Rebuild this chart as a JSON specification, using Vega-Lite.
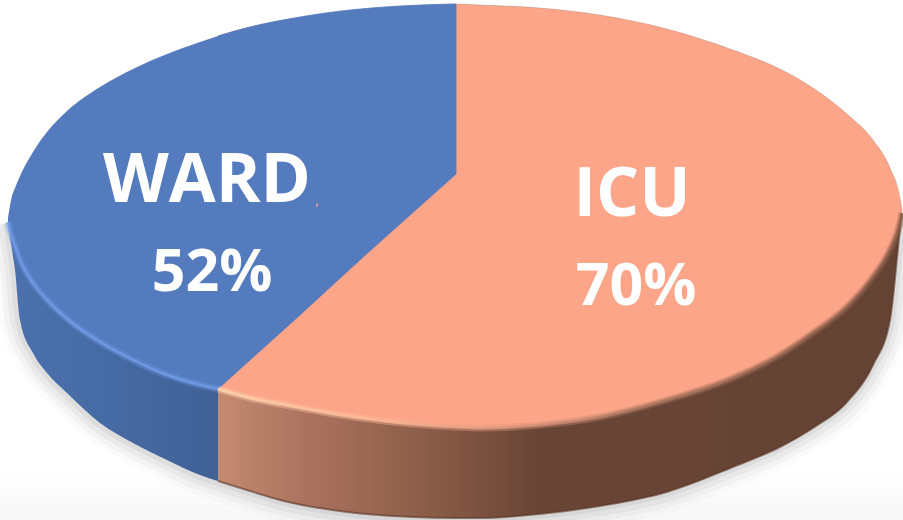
{
"$schema":"https://vega.github.io/schema/vega-lite/v6.json",
"autosize":{"type":"none"},"width":903,"height":520,"padding":0,"background":"#ffffff",
"view":{"stroke":null},
"datasets":{
"rim":[
{"slice":"WARD","x":8,"back":218,"front":222,"bottom":223},
{"slice":"WARD","x":12,"back":196,"front":238,"bottom":250},
{"slice":"WARD","x":15,"back":188,"front":246,"bottom":270},
{"slice":"WARD","x":20,"back":176,"front":260,"bottom":320},
{"slice":"WARD","x":33,"back":152,"front":283,"bottom":353},
{"slice":"WARD","x":47,"back":132,"front":300,"bottom":373},
{"slice":"WARD","x":67,"back":111,"front":319,"bottom":393},
{"slice":"WARD","x":100,"back":87,"front":342,"bottom":423},
{"slice":"WARD","x":133,"back":69,"front":360,"bottom":443},
{"slice":"WARD","x":167,"back":54,"front":375,"bottom":460},
{"slice":"WARD","x":200,"back":42,"front":385,"bottom":475},
{"slice":"WARD","x":218,"back":36,"front":389,"bottom":481},
{"slice":"ICU","x":218,"back":36,"front":389,"bottom":481},
{"slice":"ICU","x":250,"back":27,"front":398,"bottom":491},
{"slice":"ICU","x":280,"back":21,"front":404,"bottom":500},
{"slice":"ICU","x":347,"back":11,"front":416,"bottom":512},
{"slice":"ICU","x":413,"back":6,"front":424,"bottom":517},
{"slice":"ICU","x":456,"back":4,"front":427,"bottom":518},
{"slice":"ICU","x":480,"back":5,"front":428,"bottom":518},
{"slice":"ICU","x":540,"back":8,"front":425,"bottom":514},
{"slice":"ICU","x":600,"back":15,"front":417,"bottom":506},
{"slice":"ICU","x":667,"back":29,"front":400,"bottom":492},
{"slice":"ICU","x":733,"back":50,"front":378,"bottom":467},
{"slice":"ICU","x":780,"back":69,"front":355,"bottom":447},
{"slice":"ICU","x":813,"back":88,"front":333,"bottom":428},
{"slice":"ICU","x":847,"back":114,"front":307,"bottom":402},
{"slice":"ICU","x":873,"back":140,"front":277,"bottom":365},
{"slice":"ICU","x":890,"back":168,"front":250,"bottom":320},
{"slice":"ICU","x":900,"back":198,"front":223,"bottom":230},
{"slice":"ICU","x":902,"back":210,"front":213,"bottom":214}
],
"wedge":[
{"x":218,"back":36,"front":389},
{"x":250,"back":27,"front":360},
{"x":300,"back":17,"front":315},
{"x":350,"back":10,"front":269},
{"x":400,"back":6,"front":224},
{"x":456,"back":4,"front":174}
],
"labels":[
{"slice":"WARD","x":207,"name":202,"pctx":212,"pct":291,"value":"52%"},
{"slice":"ICU","x":632,"name":216,"pctx":636,"pct":305,"value":"70%"}
]
},
"encoding":{
"x":{"field":"x","type":"quantitative","scale":{"domain":[0,903]},"axis":null},
"y":{"field":"bottom","type":"quantitative","scale":{"domain":[520,0]},"axis":null}
},
"layer":[
{"data":{"values":[{"x":0,"x2":903,"bottom":470,"b2":520}]},
 "mark":{"type":"rect","color":{"gradient":"linear","x1":0,"y1":0,"x2":0,"y2":1,"stops":[{"offset":0,"color":"#ffffff"},{"offset":1,"color":"#f7f7f7"}]}},
 "encoding":{"x2":{"field":"x2"},"y2":{"field":"b2"}}},
{"data":{"name":"rim"},"mark":{"type":"line","stroke":"#000000","strokeWidth":40,"opacity":0.015,"interpolate":"monotone"}},
{"data":{"name":"rim"},"mark":{"type":"line","stroke":"#000000","strokeWidth":30,"opacity":0.03,"interpolate":"monotone"}},
{"data":{"name":"rim"},"mark":{"type":"line","stroke":"#000000","strokeWidth":20,"opacity":0.04,"interpolate":"monotone"}},
{"data":{"name":"rim"},"mark":{"type":"line","stroke":"#000000","strokeWidth":10,"opacity":0.05,"interpolate":"monotone"}},
{"data":{"name":"rim"},"transform":[{"filter":"datum.slice==='WARD'"}],
 "mark":{"type":"area","interpolate":"monotone","color":{"gradient":"linear","x1":0,"y1":0,"x2":1,"y2":0,"stops":[{"offset":0,"color":"#4b71ad"},{"offset":0.5,"color":"#466aa3"},{"offset":1,"color":"#416196"}]}},
 "encoding":{"y2":{"field":"front"}}},
{"data":{"name":"rim"},"transform":[{"filter":"datum.slice==='ICU'"}],
 "mark":{"type":"area","interpolate":"monotone","color":{"gradient":"linear","x1":0,"y1":0,"x2":1,"y2":0,"stops":[{"offset":0,"color":"#c48b71"},{"offset":0.12,"color":"#ad7460"},{"offset":0.3,"color":"#8c5e49"},{"offset":0.47,"color":"#694536"},{"offset":1,"color":"#644334"}]}},
 "encoding":{"y2":{"field":"front"}}},
{"data":{"name":"rim"},"transform":[{"filter":"datum.slice==='ICU'"}],
 "mark":{"type":"line","interpolate":"monotone","stroke":"#5a3626","strokeWidth":2,"opacity":0.6}},
{"data":{"name":"rim"},"transform":[{"filter":"datum.slice==='ICU'"}],
 "mark":{"type":"area","interpolate":"monotone","color":"#fda588","stroke":"#8a6a5c","strokeWidth":0.6,"strokeOpacity":0.5},
 "encoding":{"y":{"field":"back"},"y2":{"field":"front"}}},
{"data":{"name":"rim"},"transform":[{"filter":"datum.slice==='WARD'"}],
 "mark":{"type":"area","interpolate":"monotone","color":"#557bbf"},
 "encoding":{"y":{"field":"back"},"y2":{"field":"front"}}},
{"data":{"name":"wedge"},
 "mark":{"type":"area","interpolate":"monotone","color":"#557bbf","stroke":"#557bbf","strokeWidth":0.8},
 "encoding":{"y":{"field":"back"},"y2":{"field":"front"}}},
{"data":{"name":"rim"},"transform":[{"filter":"datum.slice==='WARD'"}],
 "mark":{"type":"line","interpolate":"monotone","stroke":"#6f9ae6","strokeWidth":7,"opacity":0.35},
 "encoding":{"y":{"field":"front"}}},
{"data":{"name":"rim"},"transform":[{"filter":"datum.slice==='WARD'"}],
 "mark":{"type":"line","interpolate":"monotone","stroke":"#6f9ae6","strokeWidth":3,"opacity":0.8},
 "encoding":{"y":{"field":"front"}}},
{"data":{"name":"rim"},"transform":[{"filter":"datum.slice==='ICU'"}],
 "mark":{"type":"line","interpolate":"monotone","strokeWidth":7,"opacity":0.4,"stroke":{"gradient":"linear","x1":0,"y1":0,"x2":1,"y2":0,"stops":[{"offset":0,"color":"#ffd2ad"},{"offset":0.2,"color":"#ffbd9b"},{"offset":0.42,"color":"#e0977c"},{"offset":0.6,"color":"#b07a62"},{"offset":1,"color":"#8a5c48"}]}},
 "encoding":{"y":{"field":"front"}}},
{"data":{"name":"rim"},"transform":[{"filter":"datum.slice==='ICU'"}],
 "mark":{"type":"line","interpolate":"monotone","strokeWidth":3,"opacity":0.85,"stroke":{"gradient":"linear","x1":0,"y1":0,"x2":1,"y2":0,"stops":[{"offset":0,"color":"#ffd2ad"},{"offset":0.2,"color":"#ffbd9b"},{"offset":0.42,"color":"#e0977c"},{"offset":0.6,"color":"#b07a62"},{"offset":1,"color":"#8a5c48"}]}},
 "encoding":{"y":{"field":"front"}}},
{"data":{"name":"labels"},
 "mark":{"type":"text","font":"Open Sans","fontWeight":"bold","fontSize":68,"color":"#ffffff","align":"center","baseline":"alphabetic"},
 "encoding":{"y":{"field":"name"},"text":{"field":"slice"}}},
{"data":{"name":"labels"},
 "mark":{"type":"text","font":"Open Sans","fontWeight":"bold","fontSize":59,"color":"#ffffff","align":"center","baseline":"alphabetic"},
 "encoding":{"x":{"field":"pctx"},"y":{"field":"pct"},"text":{"field":"value"}}},
{"data":{"values":[{"x":317,"bottom":205,"t":","}]},
 "mark":{"type":"text","font":"Open Sans","fontSize":14,"color":"#fda588","align":"center","baseline":"alphabetic"},
 "encoding":{"text":{"field":"t"}}}
]
}
